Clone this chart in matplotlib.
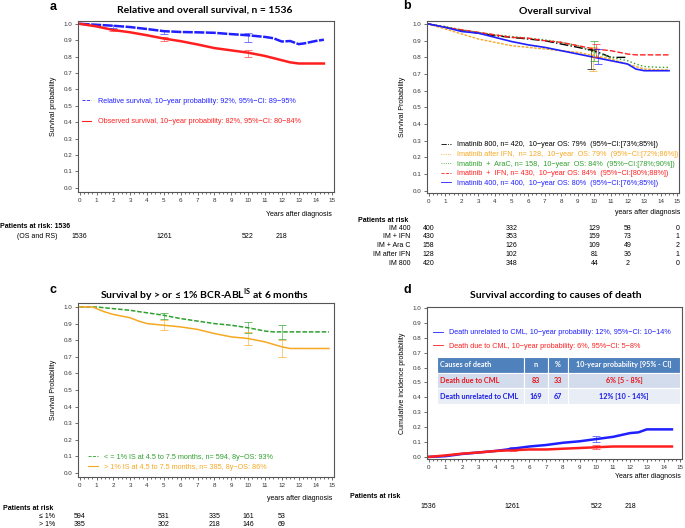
import numpy as np
import matplotlib.pyplot as plt
from matplotlib.lines import Line2D
from matplotlib.transforms import blended_transform_factory

plt.rcParams['font.family'] = ['Liberation Sans', 'DejaVu Sans']
plt.rcParams['mathtext.fontset'] = 'custom'
plt.rcParams['mathtext.rm'] = 'Lato:bold'

# ---- data: panel a (relative / observed survival) ----
years_rs = [0, 1, 2, 3, 4, 5, 6, 7, 8, 9, 10, 11, 11.5, 12, 12.5, 13, 13.3, 14, 14.5]
rel_surv = [1.0, 0.994, 0.988, 0.98, 0.968, 0.955, 0.95, 0.948, 0.945, 0.937, 0.93, 0.92, 0.912,
            0.892, 0.895, 0.876, 0.88, 0.895, 0.903]
years_os = [0, 1, 2, 3, 4, 5, 6, 7, 8, 9, 10, 11, 12, 12.5, 13, 14, 14.5]
obs_surv = [1.0, 0.984, 0.962, 0.948, 0.93, 0.91, 0.894, 0.874, 0.852, 0.838, 0.824, 0.804, 0.778,
            0.765, 0.758, 0.758, 0.758]
ci_years_a = [2, 5, 10]
rs_lo = [0.975, 0.935, 0.89]
rs_hi = [0.99, 0.958, 0.945]
os_lo = [0.955, 0.895, 0.80]
os_hi = [0.97, 0.92, 0.84]
risk_years_a = [0, 5, 10, 12]
risk_all = [1536, 1261, 522, 218]

# ---- data: panel b (overall survival by arm) ----
years_b = [0, 1, 2, 3, 4, 5, 6, 7, 8, 9, 10, 11, 12, 12.5, 13, 14, 14.5]
im400 = [1.0, 0.98, 0.955, 0.945, 0.92, 0.895, 0.875, 0.86, 0.84, 0.82, 0.80, 0.78, 0.76, 0.73, 0.72, 0.72, 0.72]
im_ifn = [1.0, 0.98, 0.965, 0.95, 0.935, 0.92, 0.915, 0.90, 0.89, 0.87, 0.85, 0.84, 0.82, 0.815, 0.815, 0.815, 0.815]
im_arac = [1.0, 0.985, 0.965, 0.95, 0.935, 0.925, 0.915, 0.905, 0.89, 0.87, 0.83, 0.80, 0.78, 0.76, 0.745, 0.74, 0.74]
im_after_ifn = [1.0, 0.97, 0.94, 0.91, 0.89, 0.87, 0.86, 0.85, 0.84, 0.83, 0.81, 0.79, 0.76, 0.745, 0.73, 0.725, 0.725]
years_800 = [0, 1, 2, 3, 4, 5, 6, 7, 8, 9, 10, 10.5, 11, 12]
im800 = [1.0, 0.98, 0.96, 0.945, 0.93, 0.92, 0.91, 0.90, 0.88, 0.86, 0.84, 0.82, 0.80, 0.80]
ci_x_b = [9.8, 9.9, 10.0, 10.1, 10.2]
ci_lo_b = [0.73, 0.72, 0.78, 0.80, 0.76]
ci_hi_b = [0.85, 0.86, 0.90, 0.88, 0.85]
risk_years_b = [0, 5, 10, 12, 15]
risk_groups_b = ['IM 400', 'IM + IFN', 'IM + Ara C', 'IM after IFN', 'IM 800']
risk_b = [[400, 332, 129, 58, 0],
          [430, 353, 159, 73, 1],
          [158, 126, 109, 49, 2],
          [128, 102, 81, 36, 1],
          [420, 348, 44, 2, 0]]

# ---- data: panel c (by BCR-ABL at 6 months) ----
years_c = [0, 0.8, 1, 1.5, 2, 3, 3.5, 4, 5, 6, 7, 8, 9, 10, 11, 11.5, 12, 12.5, 13, 14, 14.8]
le1 = [1.0, 1.0, 1.0, 0.995, 0.99, 0.98, 0.972, 0.965, 0.95, 0.93, 0.915, 0.90, 0.89, 0.875, 0.855,
       0.85, 0.85, 0.85, 0.85, 0.85, 0.85]
gt1 = [1.0, 1.0, 0.99, 0.97, 0.955, 0.935, 0.915, 0.90, 0.89, 0.88, 0.865, 0.84, 0.82, 0.81, 0.79,
       0.775, 0.76, 0.75, 0.75, 0.75, 0.75]
ci_years_c = [5, 10, 12]
le1_lo = [0.93, 0.845, 0.81]
le1_hi = [0.965, 0.91, 0.89]
gt1_lo = [0.86, 0.77, 0.70]
gt1_hi = [0.92, 0.85, 0.80]
risk_years_c = [0, 5, 8, 10, 12]
risk_c = [[594, 531, 335, 161, 53],
          [385, 302, 218, 146, 69]]

# ---- data: panel d (cumulative incidence by cause of death) ----
years_d = [0, 1, 2, 3, 4, 5, 6, 7, 8, 9, 10, 11, 12, 12.5, 13, 14, 14.5]
unrelated = [0, 0.005, 0.02, 0.03, 0.04, 0.055, 0.07, 0.08, 0.095, 0.105, 0.12, 0.135, 0.16, 0.165,
             0.185, 0.185, 0.185]
due_cml = [0, 0.01, 0.022, 0.03, 0.04, 0.045, 0.05, 0.05, 0.055, 0.06, 0.065, 0.07, 0.07, 0.07,
           0.07, 0.07, 0.07]
ci_years_d = [5, 10]
unrel_lo = [0.05, 0.10]
unrel_hi = [0.065, 0.14]
due_lo = [0.04, 0.05]
due_hi = [0.05, 0.08]
cause_table = [['Causes of death', 'n', '%', '10-year probability [95% - CI]'],
               ['Death due to CML', '83', '33', '6% [5 - 8%]'],
               ['Death unrelated to CML', '169', '67', '12% [10 - 14%]']]

BLUE = '#1f1fff'
RED = '#ff1f1f'
ORANGE = '#f7a823'
GREEN = '#2ea02e'

W, H = 685, 528
fig = plt.figure(figsize=(6.85, 5.28), dpi=100)


def box(l, t, r, b):
    return fig.add_axes([l / W, 1 - b / H, (r - l) / W, (b - t) / H])


def ftext(x, y, s, **kw):
    kw.setdefault('fontsize', 5)
    fig.text(x / W, 1 - y / H, s, va='center', **kw)


def style(ax, ylim, ylabel):
    ax.set_xlim(-0.1, 15.1)
    ax.set_ylim(*ylim)
    ax.set_xticks(range(16))
    ax.set_xticks(np.arange(0, 15.01, 0.25), minor=True)
    ax.set_yticks(np.arange(0, 1.01, 0.1))
    ax.set_yticklabels([f'{v:.1f}' for v in np.arange(0, 1.01, 0.1)])
    ax.tick_params(labelsize=4.5, length=2, width=0.5, pad=2, colors='#333333')
    ax.tick_params(which='minor', length=1.2, width=0.4)
    for s in ax.spines.values():
        s.set_linewidth(0.8)
        s.set_color('#555555')
    ax.set_ylabel(ylabel, fontsize=5, labelpad=5)


def ci_bars(ax, x, lo, hi, color, alpha=0.7):
    mid = [(a + b) / 2 for a, b in zip(lo, hi)]
    half = [(b - a) / 2 for a, b in zip(lo, hi)]
    ax.errorbar(x, mid, yerr=half, fmt='none', ecolor=color, elinewidth=0.5,
                capsize=3, capthick=0.6, alpha=alpha)


def risk_row(ax, years, values, y):
    tr = blended_transform_factory(ax.transData, fig.transFigure)
    for t, v in zip(years, values):
        ax.text(t, 1 - y / H, str(v), transform=tr, ha='center', va='center', fontsize=5,
                clip_on=False)


title_kw = dict(fontsize=7.5, fontweight='bold', family=['Lato', 'DejaVu Sans'], ha='center')
letter_kw = dict(fontsize=9, fontweight='bold', family=['Liberation Sans'])
leg_kw = dict(loc='upper left', frameon=False, fontsize=5.2, handlelength=1.3,
              handletextpad=0.9, borderpad=0, borderaxespad=0)

# ---------------- panel a ----------------
ax = box(78, 21, 334, 192)
style(ax, (-0.025, 1.017), 'Survival probability')
ax.plot(years_rs, rel_surv, color=BLUE, lw=1.8, ls='--', dashes=(4, 0.6))
ax.plot(years_os, obs_surv, color=RED, lw=1.8)
ci_bars(ax, ci_years_a, rs_lo, rs_hi, BLUE)
ci_bars(ax, ci_years_a, os_lo, os_hi, RED)
ax.legend([Line2D([], [], color=BLUE, lw=0.6, ls='--'), Line2D([], [], color=RED, lw=0.8)],
          ['Relative survival, 10\u2212year probability: 92%, 95%\u2212CI: 89\u221295%',
           'Observed survival, 10\u2212year probability: 82%, 95%\u2212CI: 80\u221284%'],
          bbox_to_anchor=(0.016, 0.55), labelspacing=1.8, labelcolor=[BLUE, RED], **leg_kw)
ftext(205, 10, 'Relative and overall survival, n = 1536', **title_kw)
ftext(50, 7, 'a', **letter_kw)
ftext(332, 214, 'Years after diagnosis', ha='right')
ftext(0, 226, 'Patients at risk: 1536', fontweight='bold')
ftext(17, 236, '(OS and RS)')
risk_row(ax, risk_years_a, risk_all, 236)

# ---------------- panel b ----------------
ax = box(427, 21, 679, 193)
style(ax, (-0.013, 1.018), 'Survival Probability')
ax.plot(years_800, im800, color='black', lw=1.0, ls='-.')
ax.plot(years_b, im_after_ifn, color=ORANGE, lw=1.0, ls=(0, (2, 1)))
ax.plot(years_b, im_arac, color=GREEN, lw=1.0, ls=':')
ax.plot(years_b, im_ifn, color=RED, lw=1.0, ls=(0, (4, 1.5)))
ax.plot(years_b, im400, color=BLUE, lw=1.2)
for x, lo, hi, c in zip(ci_x_b, ci_lo_b, ci_hi_b, ['black', ORANGE, GREEN, RED, BLUE]):
    ci_bars(ax, [x], [lo], [hi], c, alpha=0.8)
ax.legend([Line2D([], [], color='black', lw=0.6, ls='-.'),
           Line2D([], [], color=ORANGE, lw=0.6, ls=':'),
           Line2D([], [], color=GREEN, lw=0.6, ls=':'),
           Line2D([], [], color=RED, lw=0.6, ls='--'),
           Line2D([], [], color=BLUE, lw=0.6)],
          ['Imatinib 800, n= 420,  10\u2212year OS: 79%  (95%\u2212CI:[73%;85%])',
           'Imatinib after IFN,  n= 128,  10\u2212year  OS: 79%  (95%\u2212CI:[72%;86%])',
           'Imatinib  +  AraC, n= 158,  10\u2212year  OS: 84%  (95%\u2212CI:[78%;90%])',
           'Imatinib  +  IFN, n= 430,  10\u2212year OS: 84%  (95%\u2212CI:[80%;88%])',
           'Imatinib 400, n= 400,  10\u2212year OS: 80%  (95%\u2212CI:[76%;85%])'],
          bbox_to_anchor=(0.056, 0.30), labelspacing=0.35,
          labelcolor=['black', ORANGE, GREEN, RED, BLUE], **leg_kw)
ftext(555, 11, 'Overall survival', **title_kw)
ftext(403, 6, 'b', **letter_kw)
ftext(680, 213, 'years after diagnosis', ha='right')
ftext(358, 220, 'Patients at risk', fontweight='bold')
for i, (g, row) in enumerate(zip(risk_groups_b, risk_b)):
    y = 228 + i * 8.8
    ftext(410, y, g, ha='right')
    risk_row(ax, risk_years_b, row, y)

# ---------------- panel c ----------------
ax = box(78, 303, 334, 477)
style(ax, (-0.024, 1.024), 'Survival Probability')
ax.plot(years_c, le1, color=GREEN, lw=1.1, ls=(0, (3, 1.2)))
ax.plot(years_c, gt1, color=ORANGE, lw=1.1)
ci_bars(ax, ci_years_c, le1_lo, le1_hi, GREEN, alpha=0.8)
ci_bars(ax, ci_years_c, gt1_lo, gt1_hi, ORANGE, alpha=0.8)
ax.legend([Line2D([], [], color=GREEN, lw=0.6, ls='--'), Line2D([], [], color=ORANGE, lw=0.8)],
          ['< = 1% IS at 4.5 to 7.5 months, n= 594, 8y\u2212OS: 93%',
           '> 1% IS at 4.5 to 7.5 months, n= 385, 8y\u2212OS: 86%'],
          bbox_to_anchor=(0.04, 0.135), labelspacing=0.4, labelcolor=[GREEN, ORANGE], **leg_kw)
ftext(205, 295, 'Survival by > or \u2264 1% BCR-ABL$^{\\mathrm{IS}}$ at 6 months', **title_kw)
ftext(50, 290, 'c', **letter_kw)
ftext(332, 499, 'years after diagnosis', ha='right')
ftext(3, 509, 'Patients at risk', fontweight='bold')
for i, (g, row) in enumerate(zip(['\u2264 1%', '> 1%'], risk_c)):
    y = 516 + i * 8
    ftext(55, y, g, ha='right')
    risk_row(ax, risk_years_c, row, y)

# ---------------- panel d ----------------
ax = box(427, 307, 682, 459)
style(ax, (-0.014, 1.007), 'Cumulative incidence probability')
ax.plot(years_d, unrelated, color=BLUE, lw=1.8)
ax.plot(years_d, due_cml, color=RED, lw=1.8)
ci_bars(ax, ci_years_d, unrel_lo, unrel_hi, BLUE)
ci_bars(ax, ci_years_d, due_lo, due_hi, RED)
ax.legend([Line2D([], [], color=BLUE, lw=0.6), Line2D([], [], color=RED, lw=0.6)],
          ['Death unrelated to CML, 10\u2212year probability: 12%, 95%\u2212CI: 10\u221214%',
           'Death due to CML, 10\u2212year probability: 6%, 95%\u2212CI: 5\u22128%'],
          bbox_to_anchor=(0.024, 0.855), labelspacing=0.95, labelcolor=[BLUE, RED], **leg_kw)
tab = ax.table(cellText=cause_table, cellLoc='center', colWidths=[87, 24, 20, 112],
               bbox=[(437 - 427) / 255, (459 - 404) / 152, 243 / 255, 47 / 152])
tab.auto_set_font_size(False)
row_bg = ['#4f81bd', '#d3dcec', '#e9eef6']
row_fg = ['white', '#e8141b', '#1a1ae6']
for (r, c), cell in tab.get_celld().items():
    cell.set_facecolor(row_bg[r])
    cell.set_edgecolor('white')
    cell.set_linewidth(0.8)
    cell.get_text().set_color(row_fg[r])
    cell.get_text().set_fontsize(5.2)
    cell.get_text().set_fontweight('bold')
    cell.get_text().set_family(['Lato', 'DejaVu Sans'])
    if c == 0:
        cell.get_text().set_ha('left')
        cell.PAD = 0.04
ftext(556, 295, 'Survival according to causes of death', **title_kw)
ftext(403, 290, 'd', **letter_kw)
ftext(681, 477, 'Years after diagnosis', ha='right')
ftext(350, 497, 'Patients at risk', fontweight='bold')
risk_row(ax, risk_years_a, risk_all, 506)

fig.savefig('out.png', dpi=100)
